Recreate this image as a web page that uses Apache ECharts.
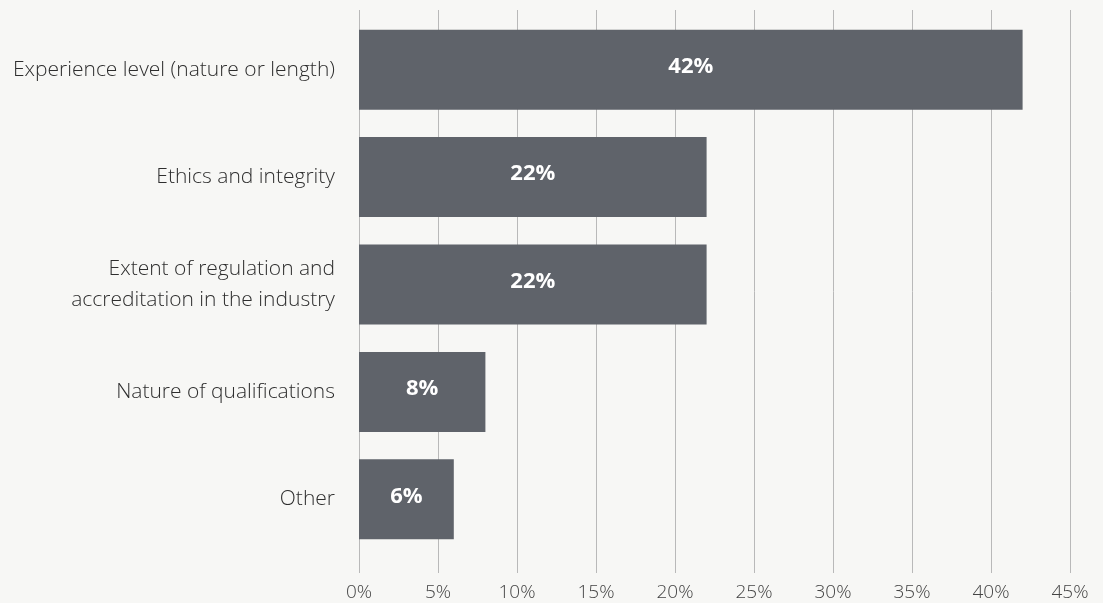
<!DOCTYPE html>
<html>
<head>
<meta charset="utf-8">
<script src="https://cdn.jsdelivr.net/npm/echarts@6/dist/echarts.min.js"></script>
<style>
  html, body { margin: 0; padding: 0; background: #f7f7f5; }
  #chart { width: 1103px; height: 603px; }
</style>
</head>
<body>
<div id="chart"></div>
<script>
// Reasons cited, share of respondents (%)
const categories = [
  'Experience level (nature or length)',
  'Ethics and integrity',
  'Extent of regulation and\naccreditation in the industry',
  'Nature of qualifications',
  'Other'
];
const values = [42, 22, 22, 8, 6];
const xTicks = [0, 5, 10, 15, 20, 25, 30, 35, 40, 45];

const FONT = '"Open Sans", "Noto Sans", sans-serif';
const chart = echarts.init(document.getElementById('chart'), null, { renderer: 'canvas' });

chart.setOption({
  backgroundColor: '#f7f7f5',
  animation: false,
  grid: [
    // tall grid carrying the vertical gridlines and tick labels
    { left: 359, right: 33, top: 10, bottom: 30 },
    // bar grid
    { left: 359, right: 33, top: 16, height: 537 }
  ],
  xAxis: [
    {
      gridIndex: 0, type: 'value',
      min: xTicks[0], max: xTicks[xTicks.length - 1], interval: 5,
      axisLine: { show: false }, axisTick: { show: false },
      splitLine: { show: true, lineStyle: { color: '#b9b9b9', width: 1 } },
      axisLabel: {
        formatter: v => v + '%', color: '#444', fontFamily: FONT,
        fontSize: 19, fontWeight: 300, margin: 10
      }
    },
    {
      gridIndex: 1, type: 'value', min: 0, max: 45,
      show: false
    }
  ],
  yAxis: [
    { gridIndex: 0, type: 'value', show: false, min: 0, max: 1 },
    {
      gridIndex: 1, type: 'category', inverse: true, data: categories,
      axisLine: { show: false }, axisTick: { show: false },
      axisLabel: {
        color: '#2e2e2e', fontFamily: FONT, fontSize: 21, fontWeight: 300,
        margin: 24, lineHeight: 31, align: 'right'
      }
    }
  ],
  series: [{
    type: 'bar', xAxisIndex: 1, yAxisIndex: 1,
    data: values, barWidth: 80,
    itemStyle: { color: '#5f636a' },
    label: {
      show: true, position: 'inside', offset: [0, -3],
      formatter: p => p.value + '%',
      color: '#ffffff', fontFamily: FONT, fontWeight: 'bold', fontSize: 22
    }
  }]
});
</script>
</body>
</html>
